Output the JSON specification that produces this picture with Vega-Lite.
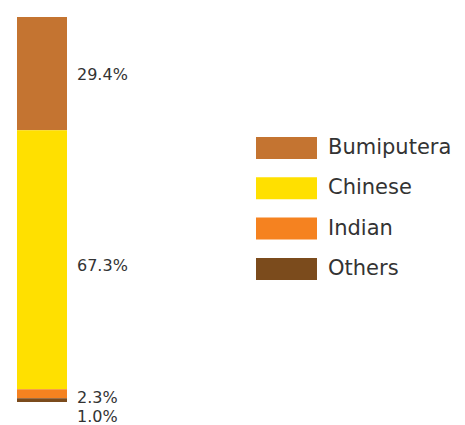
{
  "$schema": "https://vega.github.io/schema/vega-lite/v6.json",
  "autosize": "none",
  "width": 50,
  "height": 385,
  "padding": {"left": 17, "top": 17, "right": 398, "bottom": 23},
  "background": "white",
  "config": {"view": {"stroke": null}, "font": "DejaVu Sans"},
  "data": {"values": [
    {"group": "All", "ethnic": "Bumiputera", "pct": 29.4, "label": "29.4%", "rank": 1},
    {"group": "All", "ethnic": "Chinese", "pct": 67.3, "label": "67.3%", "rank": 2},
    {"group": "All", "ethnic": "Indian", "pct": 2.3, "label": "2.3%", "rank": 3},
    {"group": "All", "ethnic": "Others", "pct": 1.0, "label": "1.0%", "rank": 4}
  ]},
  "encoding": {
    "x": {"field": "group", "type": "nominal", "axis": null, "scale": {"paddingInner": 0, "paddingOuter": 0}},
    "order": {"field": "rank", "type": "quantitative"}
  },
  "layer": [
    {
      "mark": {"type": "bar", "width": {"band": 1}},
      "encoding": {
        "y": {"field": "pct", "type": "quantitative", "stack": "zero", "axis": null, "scale": {"domain": [0, 100], "reverse": true, "nice": false}},
        "color": {
          "field": "ethnic", "type": "nominal",
          "scale": {"domain": ["Bumiputera", "Chinese", "Indian", "Others"], "range": ["#C47431", "#FFE000", "#F58220", "#7B4B1C"]},
          "legend": {
            "orient": "none", "legendX": 239, "legendY": 120, "title": null,
            "symbolType": "M-1,-1H4.545V1H-1Z", "symbolSize": 484, "symbolStrokeWidth": 0,
            "rowPadding": 18.3, "labelOffset": 50, "labelFontSize": 21, "labelColor": "#333333", "labelFont": "DejaVu Sans", "symbolOpacity": 1
          }
        }
      }
    },
    {
      "mark": {"type": "text", "align": "left", "baseline": "middle", "dx": 10, "dy": 1, "fontSize": 16, "color": "#333333"},
      "encoding": {
        "x": {"field": "group", "type": "nominal", "bandPosition": 1},
        "y": {"field": "pct", "type": "quantitative", "stack": "zero", "bandPosition": 0.5},
        "text": {"field": "label", "type": "nominal"},
        "opacity": {"condition": {"test": "datum.rank == 1", "value": 1}, "value": 0}
      }
    },
    {
      "mark": {"type": "text", "align": "left", "baseline": "middle", "dx": 10, "dy": 6, "fontSize": 16, "color": "#333333"},
      "encoding": {
        "x": {"field": "group", "type": "nominal", "bandPosition": 1},
        "y": {"field": "pct", "type": "quantitative", "stack": "zero", "bandPosition": 0.5},
        "text": {"field": "label", "type": "nominal"},
        "opacity": {"condition": {"test": "datum.rank == 2", "value": 1}, "value": 0}
      }
    },
    {
      "mark": {"type": "text", "align": "left", "baseline": "middle", "dx": 10, "dy": 4, "fontSize": 16, "color": "#333333"},
      "encoding": {
        "x": {"field": "group", "type": "nominal", "bandPosition": 1},
        "y": {"field": "pct", "type": "quantitative", "stack": "zero", "bandPosition": 0.5},
        "text": {"field": "label", "type": "nominal"},
        "opacity": {"condition": {"test": "datum.rank == 3", "value": 1}, "value": 0}
      }
    },
    {
      "mark": {"type": "text", "align": "left", "baseline": "middle", "dx": 10, "dy": 17, "fontSize": 16, "color": "#333333"},
      "encoding": {
        "x": {"field": "group", "type": "nominal", "bandPosition": 1},
        "y": {"field": "pct", "type": "quantitative", "stack": "zero", "bandPosition": 0.5},
        "text": {"field": "label", "type": "nominal"},
        "opacity": {"condition": {"test": "datum.rank == 4", "value": 1}, "value": 0}
      }
    }
  ]
}
